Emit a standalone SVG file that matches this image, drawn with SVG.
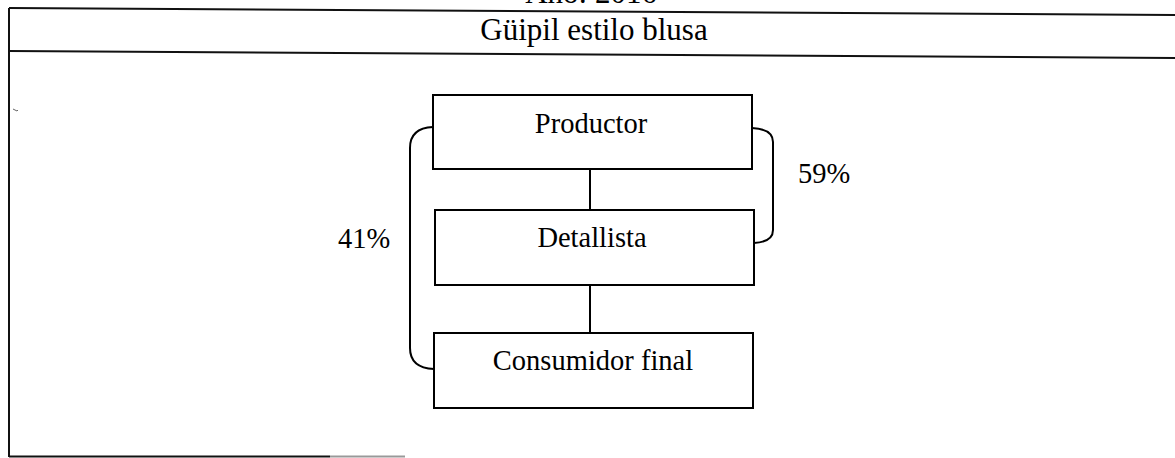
<svg xmlns="http://www.w3.org/2000/svg" width="1175" height="458" viewBox="0 0 1175 458">
<style>
text{font-family:"Liberation Serif","Times New Roman",serif;fill:#000;text-anchor:middle}
.lbl{font-size:28.5px}
.ttl{font-size:31px}
.box{fill:#fff;stroke:#000;stroke-width:2}
.ln{fill:none;stroke:#000;stroke-width:2}
.frame{fill:none;stroke:#111;stroke-width:2}
</style>
<rect width="1175" height="458" fill="#fff"/>
<g id="frame">
<text class="ttl" x="591" y="3">Año: 2016</text>
<line class="frame" x1="9" y1="8" x2="1175" y2="15"/>
<line class="frame" x1="9" y1="51" x2="1175" y2="58"/>
<line class="frame" x1="9" y1="8" x2="9" y2="457"/>
<line class="frame" x1="9" y1="456.5" x2="330" y2="456.5"/>
<line x1="330" y1="456.5" x2="405" y2="456.5" stroke="#999" stroke-width="2"/>
<text class="ttl" x="594" y="40">Güipil estilo blusa</text>
<path d="M13 109 l4 2 l1 -1" fill="none" stroke="#666" stroke-width="1"/>
</g>
<g id="connectors">
<line class="ln" x1="590" y1="169" x2="590" y2="210"/>
<line class="ln" x1="590" y1="285" x2="590" y2="333"/>
<path class="ln" d="M433 127 Q410 128 410 148 L410 348 Q410 368 434 369"/>
<path class="ln" d="M752 128 Q773 129 773 142 L773 230 Q773 242 754 243"/>
<text class="lbl" x="364" y="248">41%</text>
<text class="lbl" x="824" y="183">59%</text>
</g>
<g id="productor">
<rect class="box" x="433" y="95" width="319" height="74"/>
<text class="lbl" x="591" y="133">Productor</text>
</g>
<g id="detallista">
<rect class="box" x="435" y="210" width="319" height="75"/>
<text class="lbl" x="592" y="247">Detallista</text>
</g>
<g id="consumidor">
<rect class="box" x="434" y="333" width="319" height="75"/>
<text class="lbl" x="593" y="370">Consumidor final</text>
</g>
</svg>
